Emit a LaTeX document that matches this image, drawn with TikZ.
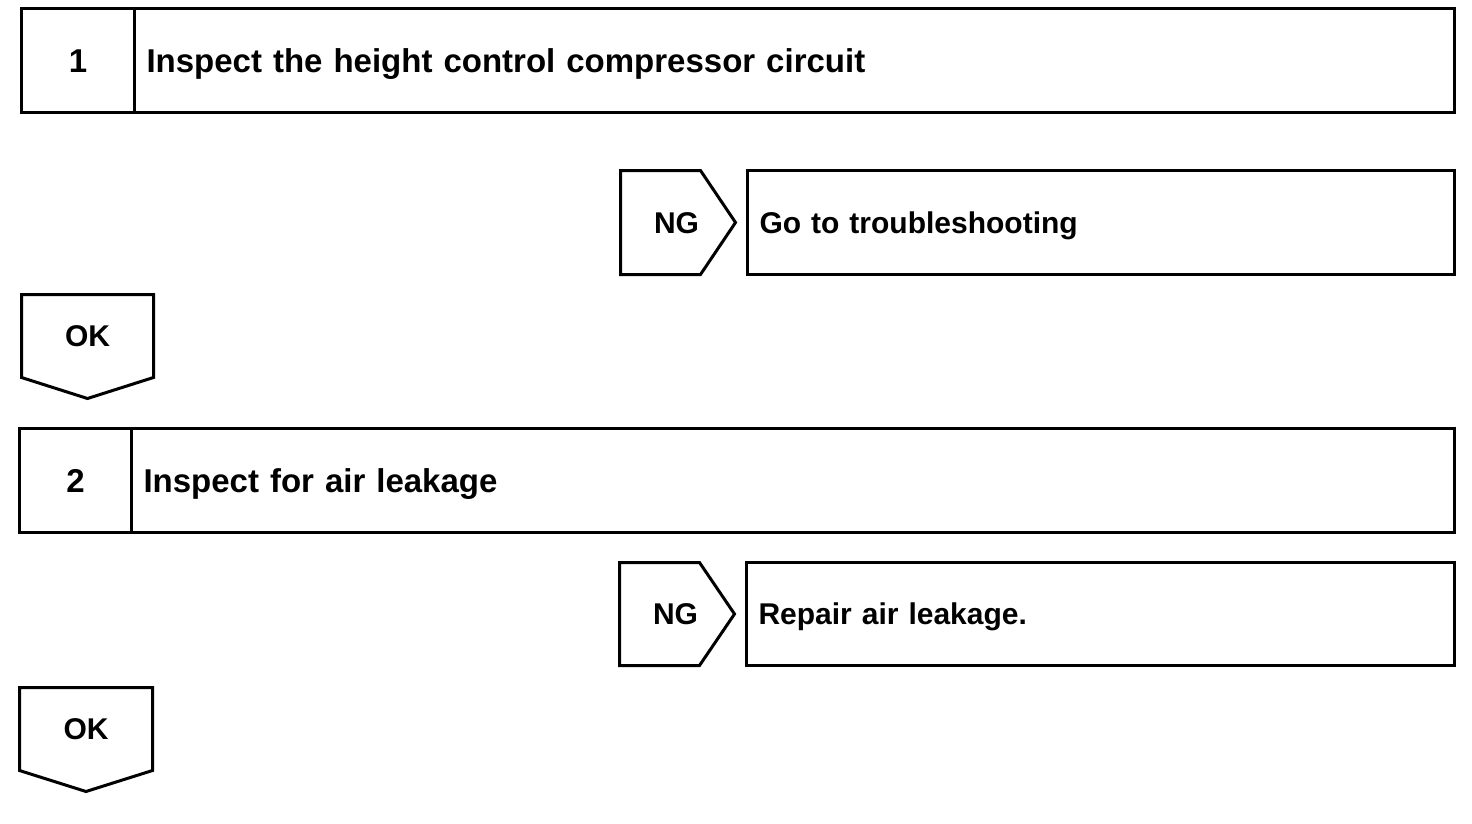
\documentclass[tikz,border=0pt]{standalone}
\usepackage{fontspec}
\setmainfont{Liberation Sans}
\usetikzlibrary{positioning}
\newcommand{\flowfont}{\bfseries\fontsize{30}{36}\selectfont}
\newcommand{\titlefont}{\bfseries\fontsize{33}{40}\selectfont}
\tikzstyle{numbox} = [draw=black, line width=3pt, rectangle, outer sep=0pt,
    inner sep=0pt, minimum width=113pt, minimum height=103.5pt, font=\titlefont,
    text height=23.6pt, text depth=0pt]
\tikzstyle{stepbox} = [draw=black, line width=3pt, rectangle, outer sep=0pt,
    inner xsep=12pt, inner ysep=0pt, minimum height=103.5pt, align=left, font=\titlefont,
    text height=23.6pt, text depth=0pt]
\tikzstyle{resbox} = [stepbox, font=\flowfont, text height=21.5pt]
\tikzstyle{flagtext} = [rectangle, outer sep=0pt, inner sep=0pt, font=\flowfont,
    text height=21.5pt, text depth=0pt]
\tikzstyle{flagline} = [draw=black, line width=3pt, line join=miter]

\begin{document}
\begin{tikzpicture}[x=1pt,y=-1pt]
    \useasboundingbox (0,0) rectangle (1472,824);
    \node [numbox, anchor=north west] (num1) at (21.5,9) {1};
    \node [stepbox, text width=1296pt, right=0pt of num1] (step1)
        {Inspect the height control compressor circuit};

    \node [flagtext, anchor=north west, minimum width=112pt, minimum height=104pt]
        (ng1) at (620.5,170.5) {NG};
    \draw [flagline] (ng1.north west) -- ++(80,0) -- ([xshift=3pt]ng1.east) -- ++(-35,52)
        -- (ng1.south west) -- cycle;
    \node [resbox, text width=683pt, minimum height=104pt,
        right=15pt of ng1] (res1) {Go to troubleshooting};

    \node [flagtext, anchor=north west, minimum width=132pt, minimum height=83pt]
        (ok1) at (21.5,294.5) {OK};
    \draw [flagline] (ok1.north west) -- (ok1.north east) -- (ok1.south east)
        -- ++(-66,21) -- (ok1.south west) -- cycle;

    \node [numbox, anchor=north west, minimum width=112pt] (num2) at (19.5,428.5) {2};
    \node [stepbox, text width=1299pt, right=0pt of num2] (step2)
        {Inspect for air leakage};

    \node [flagtext, anchor=north west, minimum width=112pt, minimum height=103pt]
        (ng2) at (619.5,562.5) {NG};
    \draw [flagline] (ng2.north west) -- ++(80,0) -- ([xshift=3pt]ng2.east) -- ++(-35,51.5)
        -- (ng2.south west) -- cycle;
    \node [resbox, text width=684pt, minimum height=103pt,
        right=15pt of ng2] (res2) {Repair air leakage.};

    \node [flagtext, anchor=north west, minimum width=133pt, minimum height=83pt]
        (ok2) at (19.5,687.5) {OK};
    \draw [flagline] (ok2.north west) -- (ok2.north east) -- (ok2.south east)
        -- ++(-66.5,21) -- (ok2.south west) -- cycle;
\end{tikzpicture}
\end{document}
